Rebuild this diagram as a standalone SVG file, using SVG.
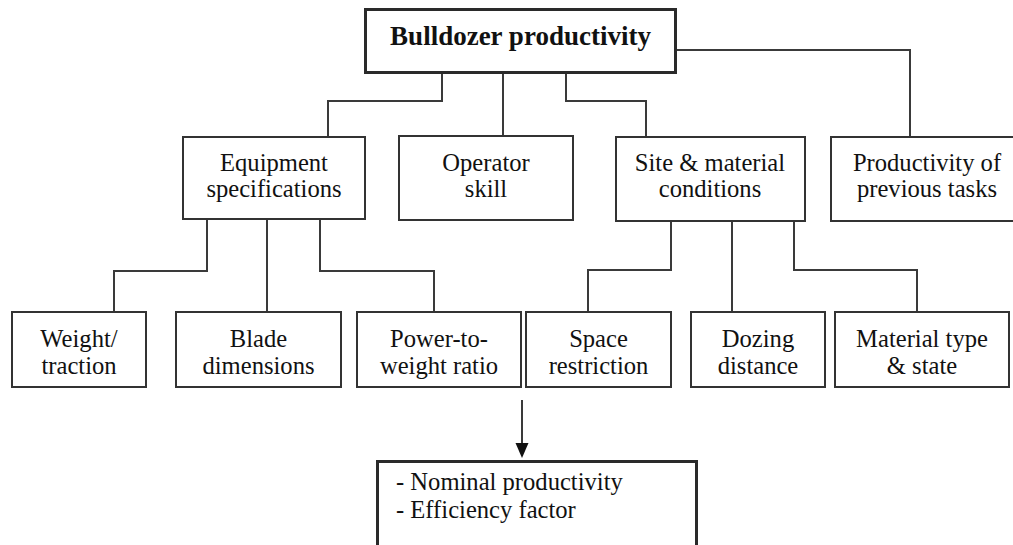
<svg xmlns="http://www.w3.org/2000/svg" width="1013" height="545" viewBox="0 0 1013 545">
  <style>
    .box { fill: #ffffff; stroke: #333333; stroke-width: 2; }
    .box-main { fill: #ffffff; stroke: #2a2a2a; stroke-width: 3; }
    .conn { fill: none; stroke: #3a3a3a; stroke-width: 2; }
    .lbl { font-family: "Liberation Serif", "Times New Roman", serif; font-size: 24.6px; fill: #111111; text-anchor: middle; }
    .title { font-family: "Liberation Serif", "Times New Roman", serif; font-size: 27px; font-weight: bold; fill: #111111; text-anchor: middle; }
    .list { font-family: "Liberation Serif", "Times New Roman", serif; font-size: 24.6px; fill: #111111; }
  </style>

  <rect width="1013" height="545" fill="#ffffff"/>

  <!-- connectors -->
  <g id="connectors">
    <path class="conn" d="M442,74 V101 H328 V137"/>
    <path class="conn" d="M503,74 V136"/>
    <path class="conn" d="M566,74 V101 H646 V137"/>
    <path class="conn" d="M676,50 H910 V137"/>
    <path class="conn" d="M207,219 V271 H114 V312"/>
    <path class="conn" d="M267,219 V312"/>
    <path class="conn" d="M320,219 V271 H434 V312"/>
    <path class="conn" d="M671,221 V270 H588 V312"/>
    <path class="conn" d="M732,221 V312"/>
    <path class="conn" d="M794,221 V270 H917 V312"/>
    <path class="conn" d="M522,400 V443"/>
    <path d="M515.5,443 L528.5,443 L522,458 Z" fill="#111111"/>
  </g>

  <!-- root -->
  <g id="bulldozer-productivity">
    <rect class="box-main" x="365.5" y="9.5" width="310" height="63"/>
    <text class="title" x="520.5" y="45">Bulldozer productivity</text>
  </g>

  <!-- second level -->
  <g id="equipment-specifications">
    <rect class="box" x="183" y="137" width="182" height="82"/>
    <text class="lbl" x="274" y="171">Equipment</text>
    <text class="lbl" x="274" y="197">specifications</text>
  </g>
  <g id="operator-skill">
    <rect class="box" x="399" y="136" width="174" height="84"/>
    <text class="lbl" x="486" y="171">Operator</text>
    <text class="lbl" x="486" y="197">skill</text>
  </g>
  <g id="site-material-conditions">
    <rect class="box" x="616" y="137" width="189" height="84"/>
    <text class="lbl" x="710" y="171">Site &amp; material</text>
    <text class="lbl" x="710" y="197">conditions</text>
  </g>
  <g id="productivity-previous-tasks">
    <rect class="box" x="831" y="137" width="192" height="84"/>
    <text class="lbl" x="927" y="171">Productivity of</text>
    <text class="lbl" x="927" y="197">previous tasks</text>
  </g>

  <!-- third level -->
  <g id="weight-traction">
    <rect class="box" x="12" y="312" width="134" height="75"/>
    <text class="lbl" x="79" y="347">Weight/</text>
    <text class="lbl" x="79" y="374">traction</text>
  </g>
  <g id="blade-dimensions">
    <rect class="box" x="176" y="312" width="165" height="75"/>
    <text class="lbl" x="258.5" y="347">Blade</text>
    <text class="lbl" x="258.5" y="374">dimensions</text>
  </g>
  <g id="power-to-weight">
    <rect class="box" x="357" y="312" width="164" height="75"/>
    <text class="lbl" x="439" y="347">Power-to-</text>
    <text class="lbl" x="439" y="374">weight ratio</text>
  </g>
  <g id="space-restriction">
    <rect class="box" x="526" y="312" width="145" height="75"/>
    <text class="lbl" x="598.5" y="347">Space</text>
    <text class="lbl" x="598.5" y="374">restriction</text>
  </g>
  <g id="dozing-distance">
    <rect class="box" x="691" y="312" width="134" height="75"/>
    <text class="lbl" x="758" y="347">Dozing</text>
    <text class="lbl" x="758" y="374">distance</text>
  </g>
  <g id="material-type-state">
    <rect class="box" x="835" y="312" width="174" height="75"/>
    <text class="lbl" x="922" y="347">Material type</text>
    <text class="lbl" x="922" y="374">&amp; state</text>
  </g>

  <!-- output -->
  <g id="outputs">
    <rect class="box-main" x="377.5" y="461.5" width="319" height="110"/>
    <text class="list" x="396" y="490">- Nominal productivity</text>
    <text class="list" x="396" y="518">- Efficiency factor</text>
  </g>
</svg>
